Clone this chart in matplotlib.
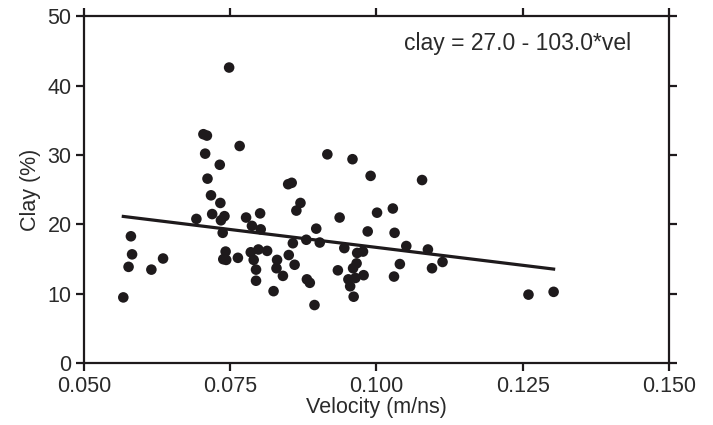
import matplotlib
matplotlib.use("Agg")
import matplotlib.pyplot as plt
import numpy as np

plt.rcParams['font.family'] = ['Liberation Sans', 'DejaVu Sans']

# velocity (m/ns) and clay (%)
vel = [0.0567, 0.0576, 0.0580, 0.0582, 0.0615, 0.0635, 0.0692, 0.0704, 0.0710, 0.0707,
       0.0711, 0.0717, 0.0719, 0.0732, 0.0733, 0.0734, 0.0740, 0.0737, 0.0748, 0.0766,
       0.0742, 0.0738, 0.0743, 0.0763, 0.0777, 0.0801, 0.0787, 0.0802, 0.0785, 0.0798,
       0.0813, 0.0790, 0.0794, 0.0794, 0.0824, 0.0830, 0.0829, 0.0840, 0.0850, 0.0857,
       0.0860, 0.0849, 0.0855, 0.0863, 0.0870, 0.0880, 0.0881, 0.0886, 0.0894, 0.0897,
       0.0903, 0.0916, 0.0934, 0.0937, 0.0945, 0.0959, 0.0960, 0.0966, 0.0967, 0.0977,
       0.0952, 0.0955, 0.0964, 0.0978, 0.0961, 0.0985, 0.0990, 0.1001, 0.1028, 0.1031,
       0.1051, 0.1040, 0.1030, 0.1078, 0.1088, 0.1095, 0.1113, 0.1260, 0.1303]
clay = [9.5, 13.9, 18.3, 15.7, 13.5, 15.1, 20.8, 33.0, 32.8, 30.2,
        26.6, 24.2, 21.5, 28.6, 23.1, 20.6, 21.2, 18.8, 42.6, 31.3,
        16.1, 15.0, 14.9, 15.2, 21.0, 21.6, 19.8, 19.3, 16.0, 16.4,
        16.2, 14.9, 13.5, 11.9, 10.4, 14.9, 13.7, 12.6, 15.6, 17.3,
        14.2, 25.8, 26.0, 22.0, 23.1, 17.8, 12.1, 11.6, 8.4, 19.4,
        17.4, 30.1, 13.4, 21.0, 16.6, 29.4, 13.7, 14.4, 15.9, 16.1,
        12.1, 11.1, 12.3, 12.7, 9.6, 19.0, 27.0, 21.7, 22.3, 18.8,
        16.9, 14.3, 12.5, 26.4, 16.4, 13.7, 14.6, 9.9, 10.3]

# fitted line: clay = 27.0 - 103.0*vel
intercept = 27.0
slope = -103.0

ink = '#1e1a1c'
txt = '#2a2a2a'

fig = plt.figure(figsize=(7.13, 4.25), dpi=100)
ax = fig.add_axes([0.118, 0.145, 0.820, 0.817])

ax.scatter(vel, clay, s=58, color=ink, edgecolors='none', zorder=3)
xl = np.array([min(vel), max(vel)])
ax.plot(xl, intercept + slope * xl, color=ink, lw=2.3, zorder=2)

ax.set_xlim(0.05, 0.15)
ax.set_ylim(0, 50)
ax.set_xticks([0.050, 0.075, 0.100, 0.125, 0.150])
ax.set_xticklabels(['0.050', '0.075', '0.100', '0.125', '0.150'])
ax.set_yticks([0, 10, 20, 30, 40, 50])

for s in ax.spines.values():
    s.set_linewidth(1.6)
    s.set_color(ink)
ax.tick_params(direction='out', length=6, width=1.6, colors=ink,
               labelsize=15.5, top=True, right=True, pad=3)
ax.tick_params(labelcolor=txt)

ax.set_xlabel('Velocity (m/ns)', fontsize=15.5, color=txt, labelpad=0)
ax.set_ylabel('Clay (%)', fontsize=15.5, color=txt, labelpad=5)

ax.text(0.741, 0.955, 'clay = 27.0 - 103.0*vel', transform=ax.transAxes,
        ha='center', va='top', fontsize=16.5, color=txt)

fig.savefig('out.png', dpi=100)
